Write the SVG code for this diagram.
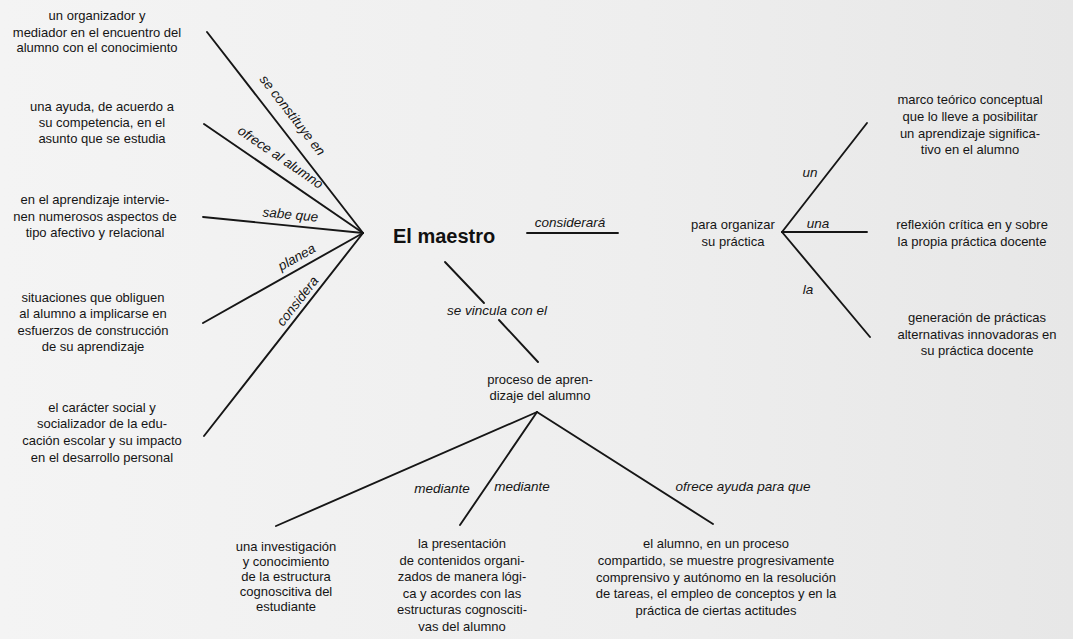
<svg xmlns="http://www.w3.org/2000/svg" width="1073" height="639" viewBox="0 0 1073 639">
  <defs>
    <linearGradient id="paper" x1="0" y1="0" x2="1" y2="0">
      <stop offset="0" stop-color="#f4f4f4"/>
      <stop offset="0.6" stop-color="#eeeeee"/>
      <stop offset="1" stop-color="#e7e7e7"/>
    </linearGradient>
  </defs>
  <style>
    .t { font-family: "Liberation Sans", Arial, sans-serif; font-size: 13px; fill: #151515; text-anchor: middle; }
    .lbl { font-family: "Liberation Sans", Arial, sans-serif; font-size: 13.5px; font-style: italic; fill: #151515; text-anchor: middle; }
    .title { font-family: "Liberation Sans", Arial, sans-serif; font-size: 20px; font-weight: bold; fill: #111; }
    .ln { stroke: #161616; stroke-width: 1.9; fill: none; stroke-linecap: round; }
  </style>

  <rect width="1073" height="639" fill="url(#paper)"/>

  <!-- connectors -->
  <g id="connectors">
    <line class="ln" x1="207" y1="32" x2="363" y2="233"/>
    <line class="ln" x1="204" y1="124" x2="363" y2="233"/>
    <line class="ln" x1="203" y1="217" x2="363" y2="233"/>
    <line class="ln" x1="203" y1="323" x2="363" y2="233"/>
    <line class="ln" x1="204" y1="436" x2="363" y2="233"/>
    <line class="ln" x1="527" y1="233" x2="618" y2="233"/>
    <line class="ln" x1="445" y1="262" x2="484" y2="303"/>
    <line class="ln" x1="499" y1="320" x2="538" y2="362"/>
    <line class="ln" x1="782" y1="232" x2="867" y2="123"/>
    <line class="ln" x1="782" y1="232" x2="867" y2="232"/>
    <line class="ln" x1="782" y1="232" x2="870" y2="337"/>
    <line class="ln" x1="537" y1="412" x2="276" y2="526"/>
    <line class="ln" x1="537" y1="412" x2="460" y2="525"/>
    <line class="ln" x1="537" y1="412" x2="713" y2="524"/>

    <text class="lbl" transform="translate(289 118) rotate(52.2)">se constituye en</text>
    <text class="lbl" transform="translate(278 161) rotate(34.4)">ofrece al alumno</text>
    <text class="lbl" transform="translate(290 219) rotate(5.4)">sabe que</text>
    <text class="lbl" transform="translate(299 261) rotate(-29.4)">planea</text>
    <text class="lbl" transform="translate(301 304) rotate(-52)">considera</text>
    <text class="lbl" x="570" y="227">considerará</text>
    <text class="lbl" x="497" y="315">se vincula con el</text>
    <text class="lbl" x="810" y="177">un</text>
    <text class="lbl" x="818" y="228">una</text>
    <text class="lbl" x="808" y="294">la</text>
    <text class="lbl" x="442" y="493">mediante</text>
    <text class="lbl" x="522" y="491">mediante</text>
    <text class="lbl" x="743" y="491">ofrece ayuda para que</text>
  </g>

  <g id="maestro">
    <text class="title" x="393" y="243">El maestro</text>
  </g>

  <g id="organizador">
    <text class="t" x="97" y="20">un organizador y</text>
    <text class="t" x="97" y="37">mediador en el encuentro del</text>
    <text class="t" x="97" y="52">alumno con el conocimiento</text>
  </g>

  <g id="ayuda">
    <text class="t" x="102" y="111">una ayuda, de acuerdo a</text>
    <text class="t" x="102" y="127">su competencia, en el</text>
    <text class="t" x="102" y="143">asunto que se estudia</text>
  </g>

  <g id="aspectos">
    <text class="t" x="95" y="204">en el aprendizaje intervie-</text>
    <text class="t" x="95" y="221">nen numerosos aspectos de</text>
    <text class="t" x="95" y="237">tipo afectivo y relacional</text>
  </g>

  <g id="situaciones">
    <text class="t" x="93" y="302">situaciones que obliguen</text>
    <text class="t" x="93" y="318">al alumno a implicarse en</text>
    <text class="t" x="93" y="335">esfuerzos de construcción</text>
    <text class="t" x="93" y="351">de su aprendizaje</text>
  </g>

  <g id="caracter">
    <text class="t" x="102" y="412">el carácter social y</text>
    <text class="t" x="102" y="428">socializador de la edu-</text>
    <text class="t" x="102" y="445">cación escolar y su impacto</text>
    <text class="t" x="102" y="462">en el desarrollo personal</text>
  </g>

  <g id="organizar">
    <text class="t" x="733" y="229">para organizar</text>
    <text class="t" x="733" y="246">su práctica</text>
  </g>

  <g id="marco">
    <text class="t" x="970" y="104">marco teórico conceptual</text>
    <text class="t" x="970" y="121">que lo lleve a posibilitar</text>
    <text class="t" x="970" y="138">un aprendizaje significa-</text>
    <text class="t" x="970" y="154">tivo en el alumno</text>
  </g>

  <g id="reflexion">
    <text class="t" x="972" y="229">reflexión crítica en y sobre</text>
    <text class="t" x="972" y="246">la propia práctica docente</text>
  </g>

  <g id="generacion">
    <text class="t" x="977" y="322">generación de prácticas</text>
    <text class="t" x="977" y="339">alternativas innovadoras en</text>
    <text class="t" x="977" y="355">su práctica docente</text>
  </g>

  <g id="proceso">
    <text class="t" x="540" y="384">proceso de apren-</text>
    <text class="t" x="540" y="400">dizaje del alumno</text>
  </g>

  <g id="investigacion">
    <text class="t" x="286" y="551">una investigación</text>
    <text class="t" x="286" y="566">y conocimiento</text>
    <text class="t" x="286" y="581">de la estructura</text>
    <text class="t" x="286" y="596">cognoscitiva del</text>
    <text class="t" x="286" y="611">estudiante</text>
  </g>

  <g id="presentacion">
    <text class="t" x="462" y="548">la presentación</text>
    <text class="t" x="462" y="565">de contenidos organi-</text>
    <text class="t" x="462" y="581">zados de manera lógi-</text>
    <text class="t" x="462" y="598">ca y acordes con las</text>
    <text class="t" x="462" y="614">estructuras cognosciti-</text>
    <text class="t" x="462" y="631">vas del alumno</text>
  </g>

  <g id="alumno">
    <text class="t" x="716" y="548">el alumno, en un proceso</text>
    <text class="t" x="716" y="565">compartido, se muestre progresivamente</text>
    <text class="t" x="716" y="582">comprensivo y autónomo en la resolución</text>
    <text class="t" x="716" y="598">de tareas, el empleo de conceptos y en la</text>
    <text class="t" x="716" y="615">práctica de ciertas actitudes</text>
  </g>
</svg>
